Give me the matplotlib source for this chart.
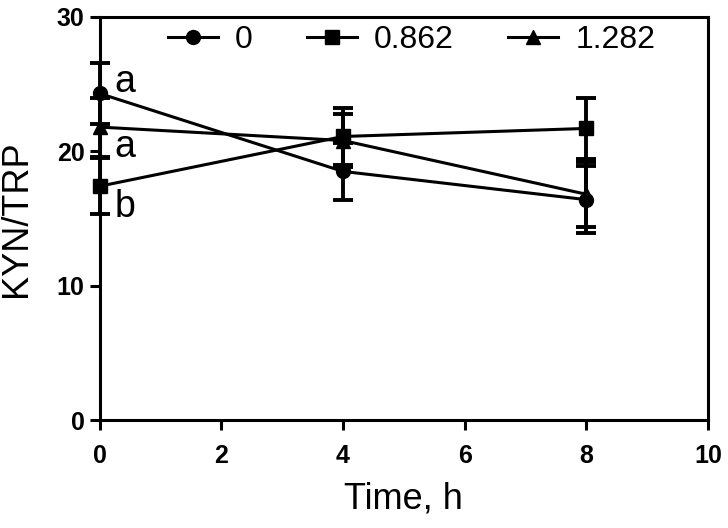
import matplotlib.pyplot as plt
from matplotlib.lines import Line2D

plt.rcParams['font.family'] = ['Liberation Sans', 'DejaVu Sans']

time_h = [0, 4, 8]
labels = ['0', '0.862', '1.282']
markers = ['o', 's', '^']
kyn_trp = [
    [24.3, 18.5, 16.4],
    [17.4, 21.1, 21.7],
    [21.8, 20.8, 16.8],
]
sem = [
    [2.3, 2.1, 2.5],
    [2.1, 2.1, 2.3],
    [2.2, 2.0, 2.4],
]
letters = ['a', 'b', 'a']
letter_y = [24.4, 15.1, 19.6]

fig = plt.figure(figsize=(7.28, 5.28), dpi=100)
ax = fig.add_axes([0.137, 0.2045, 0.8355, 0.7635])

handles = []
for i in range(len(labels)):
    ax.errorbar(time_h, kyn_trp[i], yerr=sem[i], color='k', marker=markers[i],
                markersize=10, linewidth=2.2, elinewidth=2.8, capsize=7,
                capthick=2.8, clip_on=False, zorder=3)
    ax.text(0.42, letter_y[i], letters[i], fontsize=27, va='baseline', ha='center')
    handles.append(Line2D([], [], color='k', marker=markers[i], markersize=10,
                          linewidth=2.2, label=labels[i]))

ax.set_xlim(0, 10)
ax.set_ylim(0, 30)
ax.set_xticks([0, 2, 4, 6, 8, 10])
ax.set_yticks([0, 10, 20, 30])
ax.tick_params(direction='out', length=7, width=2.2, labelsize=18)
ax.tick_params(axis='x', pad=10)
ax.tick_params(axis='y', pad=4)
for lab in ax.get_xticklabels() + ax.get_yticklabels():
    lab.set_fontweight('bold')
for sp in ax.spines.values():
    sp.set_linewidth(2.2)

ax.set_xlabel('Time, h', fontsize=26, labelpad=10)
ax.set_ylabel('KYN/TRP', fontsize=26, labelpad=16)

ax.legend(handles=handles, loc='upper left', bbox_to_anchor=(0.065, 1.05), ncol=3,
          frameon=False, fontsize=23, handlelength=1.55, columnspacing=1.7,
          handletextpad=0.55, numpoints=1)

fig.savefig('out.png', dpi=100)
